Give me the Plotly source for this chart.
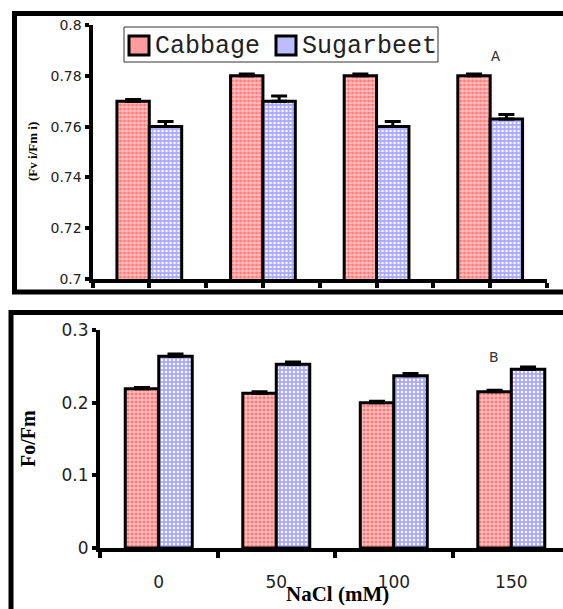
import plotly.graph_objects as go

# ---------------- data ----------------
nacl = ["0", "50", "100", "150"]
series_names = ["Cabbage", "Sugarbeet"]

fvfm_cabbage = [0.770, 0.780, 0.780, 0.780]
fvfm_cabbage_err = [0.0007, 0.0007, 0.0007, 0.0007]
fvfm_sugarbeet = [0.760, 0.770, 0.760, 0.763]
fvfm_sugarbeet_err = [0.002, 0.002, 0.002, 0.0018]

fofm_cabbage = [0.219, 0.213, 0.200, 0.215]
fofm_cabbage_err = [0.002, 0.002, 0.002, 0.002]
fofm_sugarbeet = [0.264, 0.253, 0.237, 0.246]
fofm_sugarbeet_err = [0.003, 0.003, 0.003, 0.003]

top_yticks = [0.7, 0.72, 0.74, 0.76, 0.78, 0.8]
top_yticktext = ["0.7", "0.72", "0.74", "0.76", "0.78", "0.8"]
bot_yticks = [0, 0.1, 0.2, 0.3]
bot_yticktext = ["0", "0.1", "0.2", "0.3"]

# ---------------- style ----------------
W, H = 563, 609
RED = "#ff7a7a"
BLUE = "#a8a8ff"
RED_SWATCH = "#ff9c9c"
BLUE_SWATCH = "#bcbcff"
pos = list(range(len(nacl)))


def px_x(p):
    return p / W


def px_y(p):
    return 1 - p / H


def pattern(shape, bg):
    return dict(shape=shape, fgcolor="white", bgcolor=bg, size=4,
                solidity=0.3, fillmode="replace")


fig = go.Figure()

err_style = dict(type="data", color="black", thickness=3, width=8)


def add_bars(y, err, name, color, shape, xa, ya):
    fig.add_trace(go.Bar(
        x=pos, y=y, name=name, showlegend=False,
        error_y=dict(array=err, symmetric=False,
                     arrayminus=[0] * len(err), **err_style),
        marker=dict(color=color, pattern=pattern(shape, color),
                    line=dict(color="black", width=3)),
        xaxis=xa, yaxis=ya))


add_bars(fvfm_cabbage, fvfm_cabbage_err, series_names[0], RED, "+", "x", "y")
add_bars(fvfm_sugarbeet, fvfm_sugarbeet_err, series_names[1], BLUE, ".", "x", "y")
add_bars(fofm_cabbage, fofm_cabbage_err, series_names[0], RED, "+", "x2", "y2")
add_bars(fofm_sugarbeet, fofm_sugarbeet_err, series_names[1], BLUE, ".", "x2", "y2")

tick_font_top = dict(family="DejaVu Sans", size=14, color="#222")
tick_font_bot = dict(family="DejaVu Sans", size=17, color="#222")

fig.update_layout(
    width=W, height=H,
    margin=dict(l=0, r=0, t=0, b=0, autoexpand=False),
    paper_bgcolor="white", plot_bgcolor="white",
    barmode="group", bargap=0.43, bargroupgap=0,
    showlegend=False,
    xaxis=dict(domain=[px_x(92.5), px_x(547)], range=[-0.5, 3.5],
               anchor="y", showgrid=False, zeroline=False, automargin=False,
               showline=True, linecolor="black", linewidth=4,
               tickmode="linear", tick0=0, dtick=0.5,
               ticks="outside", ticklen=5, tickwidth=4, tickcolor="black",
               showticklabels=False),
    yaxis=dict(domain=[px_y(279), px_y(25)], range=[0.7, 0.8],
               anchor="x", showgrid=False, zeroline=False, automargin=False,
               showline=True, linecolor="black", linewidth=4,
               tickmode="array", tickvals=top_yticks,
               ticktext=top_yticktext,
               ticks="outside", ticklen=4, tickwidth=4, tickcolor="black",
               tickfont=tick_font_top),
    xaxis2=dict(domain=[px_x(100), 1.0], range=[-0.5, 3.44],
                anchor="y2", showgrid=False, zeroline=False, automargin=False,
                showline=True, linecolor="black", linewidth=4,
                tickmode="array", tickvals=pos, ticktext=nacl,
                ticks="", ticklabelstandoff=16,
                minor=dict(tickmode="array",
                           tickvals=[-0.5, 0.5, 1.5, 2.5, 3.5],
                           ticks="outside", ticklen=6, tickwidth=4,
                           tickcolor="black"),
                tickfont=tick_font_bot),
    yaxis2=dict(domain=[px_y(548), px_y(330)], range=[0, 0.3],
                anchor="x2", showgrid=False, zeroline=False, automargin=False,
                showline=True, linecolor="black", linewidth=4,
                tickmode="array", tickvals=bot_yticks,
                ticktext=bot_yticktext,
                ticks="outside", ticklen=4, tickwidth=4, tickcolor="black",
                tickfont=tick_font_bot),
)

# frames around the two panels
fig.add_shape(type="rect", xref="paper", yref="paper",
              x0=px_x(14.5), x1=px_x(600), y0=px_y(292), y1=px_y(13.5),
              line=dict(color="black", width=5), layer="below")
fig.add_shape(type="rect", xref="paper", yref="paper",
              x0=px_x(11), x1=px_x(600), y0=px_y(640), y1=px_y(312.5),
              line=dict(color="black", width=5), layer="below")

# legend (drawn box, swatches and labels)
fig.add_shape(type="rect", xref="paper", yref="paper",
              x0=px_x(124), x1=px_x(438), y0=px_y(62), y1=px_y(27),
              line=dict(color="#333", width=1), fillcolor="white", layer="above")
for x0, col in [(129, RED_SWATCH), (276, BLUE_SWATCH)]:
    fig.add_shape(type="rect", xref="paper", yref="paper",
                  x0=px_x(x0), x1=px_x(x0 + 20), y0=px_y(55), y1=px_y(36),
                  line=dict(color="black", width=3), fillcolor=col,
                  layer="above")
for xl, name in [(154, series_names[0]), (301, series_names[1])]:
    fig.add_annotation(text=name, xref="paper", yref="paper",
                       x=px_x(xl), y=px_y(46), xanchor="left",
                       yanchor="middle", showarrow=False, borderpad=0,
                       font=dict(family="Liberation Mono", size=25,
                                 color="#222"))

serif_b = dict(family="Liberation Serif", color="black")
centered = dict(xref="paper", yref="paper", xanchor="center",
                yanchor="middle", showarrow=False)
fig.add_annotation(text="<b>(Fv i/Fm i)</b>", x=px_x(32), y=px_y(152),
                   textangle=-90, font=dict(size=13, **serif_b), **centered)
fig.add_annotation(text="<b>Fo/Fm</b>", x=px_x(28), y=px_y(439),
                   textangle=-90, font=dict(size=20, **serif_b), **centered)
fig.add_annotation(text="<b>NaCl (mM)</b>", x=px_x(337), y=px_y(594),
                   font=dict(size=21, **serif_b), **centered)
fig.add_annotation(text="A", x=px_x(495), y=px_y(57),
                   font=dict(family="Liberation Mono", size=15, color="#333"),
                   **centered)
fig.add_annotation(text="B", x=px_x(494), y=px_y(357),
                   font=dict(family="DejaVu Sans", size=14, color="#333"),
                   **centered)

fig.write_html("out.html")
